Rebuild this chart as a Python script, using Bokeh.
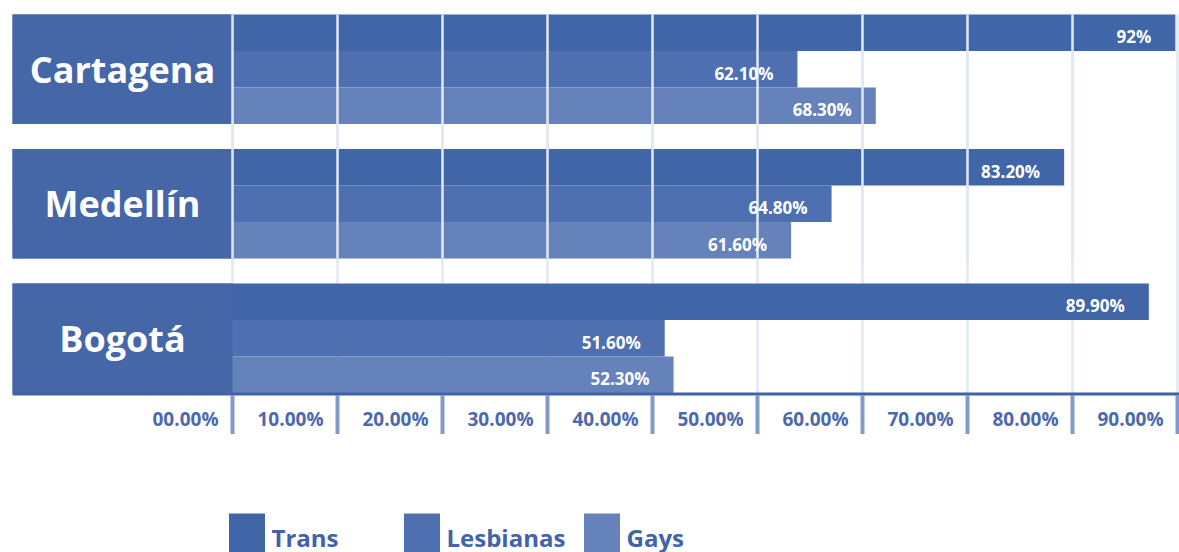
import numpy as np
from bokeh.plotting import figure
from bokeh.models import Range1d, ColumnDataSource, Legend, LegendItem
from bokeh.core.properties import value
from bokeh.embed import file_html
from bokeh.resources import INLINE

# ---------------- data ----------------
cities = ["Cartagena", "Medellín", "Bogotá"]
series = ["Trans", "Lesbianas", "Gays"]
trans = [92.0, 83.2, 89.9]
lesbianas = [62.1, 64.8, 51.6]
gays = [68.3, 61.6, 52.3]
trans_labels = ["92%", "83.20%", "89.90%"]
lesbianas_labels = ["62.10%", "64.80%", "51.60%"]
gays_labels = ["68.30%", "61.60%", "52.30%"]
tick_values = [0, 10, 20, 30, 40, 50, 60, 70, 80, 90]
tick_labels = ["00.00%", "10.00%", "20.00%", "30.00%", "40.00%",
               "50.00%", "60.00%", "70.00%", "80.00%", "90.00%"]

# ---------------- style / layout ----------------
W, H = 1179, 552
colors = ["#4066a8", "#4e6fb0", "#6682bb"]
box_color = "#4566a7"
grid_color = "#e2e8f3"
tick_color = "#8299cb"
axis_color = "#3f62a6"
label_blue = "#4b69ad"
FONT = "'Open Sans'"

# value scale (bars): 0 % at 12 px from the left, 12.64 px per %
V0_PX, PX_PER_PCT = 12.0, 12.64
# scale of the printed ticks: first tick at 232 px, 10.5 px per unit
T0_PX, PX_PER_T = 232.0, 10.5
BOX_LEFT_T = (V0_PX - T0_PX) / PX_PER_T

GROUP_TOP0, GROUP_PITCH, ROW_H = 14.0, 134.5, 36.5
AXIS_Y = GROUP_TOP0 + 2 * GROUP_PITCH + 3 * ROW_H + 1

p = figure(width=W, height=H,
           x_range=Range1d(-V0_PX / PX_PER_PCT, (W - V0_PX) / PX_PER_PCT),
           y_range=Range1d(H, 0),
           x_axis_type=None, y_axis_type=None,
           output_backend="svg", toolbar_location=None,
           min_border=0, outline_line_color=None)
p.extra_x_ranges = {"ticks": Range1d(-T0_PX / PX_PER_T, (W - T0_PX) / PX_PER_T)}
p.grid.visible = False

group_tops = np.array([GROUP_TOP0 + i * GROUP_PITCH for i in range(len(cities))])
group_bottoms = group_tops + 3 * ROW_H

# gridlines under everything
tv = np.array(tick_values, dtype=float)
p.segment(x0=tv, x1=tv, y0=[group_tops[0]] * len(tv), y1=[AXIS_Y] * len(tv),
          x_range_name="ticks", line_color=grid_color, line_width=2.5)

# bars
bar_renderers = []
for k, (name, vals, labs) in enumerate(zip(series, [trans, lesbianas, gays],
                                           [trans_labels, lesbianas_labels, gays_labels])):
    ys = group_tops + (k + 0.5) * ROW_H
    src = ColumnDataSource(dict(y=ys, right=vals, city=cities, label=labs))
    r = p.hbar(y="y", left=0, right="right", height=ROW_H, source=src,
               fill_color=colors[k], line_color=None)
    bar_renderers.append(r)

# city boxes
p.quad(left=[BOX_LEFT_T] * 3, right=[0] * 3, top=group_tops, bottom=group_bottoms,
       x_range_name="ticks", fill_color=box_color, line_color=None)

# separators drawn over the two upper groups
sep = tv[tv <= 80]
p.segment(x0=sep, x1=sep, y0=[group_tops[0]] * len(sep), y1=[group_bottoms[1]] * len(sep),
          x_range_name="ticks", line_color=grid_color, line_width=2.5)

# city names
p.text(x=[BOX_LEFT_T / 2] * 3, y=(group_tops + group_bottoms) / 2, text=cities,
       x_range_name="ticks", text_align="center", text_baseline="middle",
       text_color="white", text_font=value(FONT), text_font_style="bold",
       text_font_size="36px")

# value labels
xmax = p.x_range.end
for k, (vals, labs) in enumerate(zip([trans, lesbianas, gays],
                                     [trans_labels, lesbianas_labels, gays_labels])):
    ys = group_tops + (k + 0.5) * ROW_H
    p.text(x=np.minimum(np.array(vals), xmax), y=ys, text=labs,
           text_align="right", text_baseline="middle", x_offset=-24, y_offset=4,
           text_color="white", text_font=value(FONT), text_font_style="bold",
           text_font_size="17px")

# axis line, ticks, tick labels
p.segment(x0=[BOX_LEFT_T], x1=[p.extra_x_ranges["ticks"].end], y0=[AXIS_Y], y1=[AXIS_Y],
          x_range_name="ticks", line_color=axis_color, line_width=3)
p.segment(x0=tv, x1=tv, y0=[AXIS_Y + 1] * len(tv), y1=[AXIS_Y + 40] * len(tv),
          x_range_name="ticks", line_color=tick_color, line_width=4)
p.text(x=tv, y=[AXIS_Y + 25] * len(tv), text=tick_labels, x_range_name="ticks",
       text_align="right", text_baseline="middle", x_offset=-14,
       text_color=label_blue, text_font=value(FONT), text_font_style="bold",
       text_font_size="19px")

# legends
legend_x = [223.5, 398.5, 578.5]
for name, r, lx in zip(series, bar_renderers, legend_x):
    lg = Legend(items=[LegendItem(label=name, renderers=[r])],
                location=(lx, -15), orientation="horizontal",
                glyph_width=45, glyph_height=60, label_standoff=3,
                padding=0, margin=0, spacing=0,
                border_line_color=None, background_fill_alpha=0,
                label_text_font=FONT, label_text_font_size="24px",
                label_text_font_style="bold", label_text_color="#4263a8")
    p.add_layout(lg, "center")

open("out.html", "w").write(file_html(p, INLINE))
